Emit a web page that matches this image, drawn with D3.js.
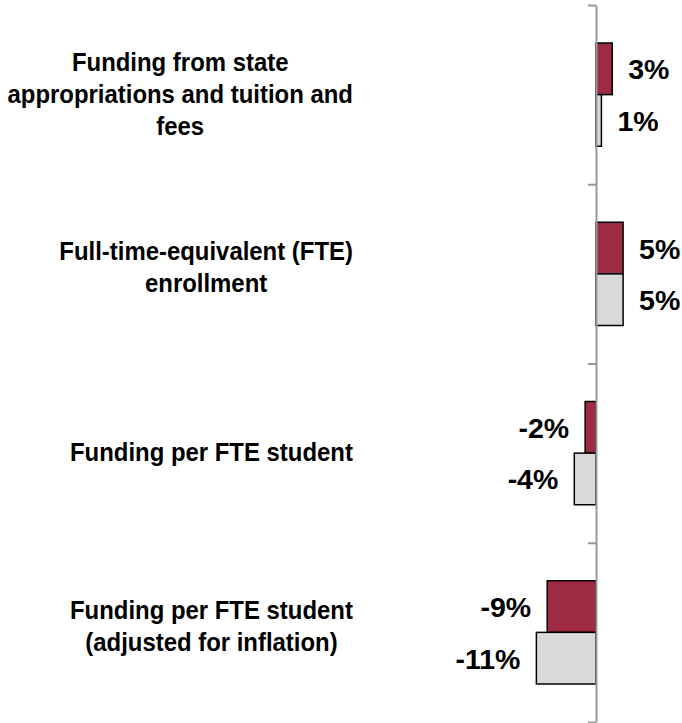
<!DOCTYPE html>
<html>
<head>
<meta charset="utf-8">
<script src="https://cdn.jsdelivr.net/npm/d3@7"></script>
<style>
  body { margin: 0; background: #fff; }
  svg { display: block; font-family: "Liberation Sans", Arial, Helvetica, sans-serif; }
</style>
</head>
<body>
<div class="canvas"></div>
<script>
// category labels, already broken into lines as in the original
const categories = [
  ["Funding from state", "appropriations and tuition and", "fees"],
  ["Full-time-equivalent (FTE)", "enrollment"],
  ["Funding per FTE student"],
  ["Funding per FTE student", "(adjusted for inflation)"]
];
const seriesNames = ["first", "second"];
const firstValues = [3, 5, -2, -9];   // red bars
const secondValues = [1, 5, -4, -11]; // grey bars

const width = 682;
const height = 723;
const axisX = 596;

const svg = d3
  .select(".canvas")
  .append("svg")
  .attr("width", width)
  .attr("height", height);

const x = d3.scaleLinear().domain([-15, 15]).range([axisX - 81.3, axisX + 81.3]);
const y = d3.scaleBand().domain(d3.range(categories.length)).range([5, 722]);
const ySub = d3
  .scaleBand()
  .domain(seriesNames)
  .range([38, y.step() - 38]);

// bars
const colors = { first: "#9e2b42", second: "#d9d9d9" };
const rows = [];
categories.forEach((c, i) => {
  rows.push({ i, s: "first", v: firstValues[i] });
  rows.push({ i, s: "second", v: secondValues[i] });
});

svg
  .selectAll(".bar")
  .data(rows)
  .join("rect")
  .attr("class", "bar")
  .attr("x", (d) => x(Math.min(0, d.v)))
  .attr("width", (d) => Math.abs(x(d.v) - x(0)))
  .attr("y", (d) => y(d.i) + ySub(d.s))
  .attr("height", ySub.bandwidth())
  .attr("fill", (d) => colors[d.s])
  .attr("stroke", "#000")
  .attr("stroke-width", 1.5);

// axis with ticks on the category boundaries
const yTicks = d3.scaleLinear().domain([0, categories.length]).range([5, 722]);
const axis = svg
  .append("g")
  .attr("transform", `translate(${axisX},0)`)
  .call(
    d3
      .axisLeft(yTicks)
      .tickValues(d3.range(categories.length + 1))
      .tickFormat("")
      .tickSizeInner(8)
      .tickSizeOuter(0)
  );
axis.selectAll("path, line").attr("stroke", "#999").attr("stroke-width", 2);

// value labels
svg
  .selectAll(".val")
  .data(rows)
  .join("text")
  .attr("class", "val")
  .attr("x", (d) => (d.v >= 0 ? x(d.v) + 16 : x(d.v) - 16))
  .attr("y", (d) => y(d.i) + ySub(d.s) + ySub.bandwidth() / 2 + 10.5)
  .attr("text-anchor", (d) => (d.v >= 0 ? "start" : "end"))
  .attr("font-size", 28.5)
  .attr("font-weight", "bold")
  .attr("fill", "#000")
  .text((d) => `${d.v}%`);

// category labels: block right-aligned, lines centred inside it
// (the original font is a bit narrower, so squeeze it horizontally)
const lineGap = 32;
const blockRight = 353;
const squeeze = 0.957;
categories.forEach((lines, i) => {
  const g = svg.append("g").attr("font-size", 25).attr("font-weight", "bold");
  const texts = g
    .selectAll("text")
    .data(lines)
    .join("text")
    .attr("text-anchor", "middle")
    .attr("fill", "#000")
    .text((d) => d);
  const maxW = d3.max(texts.nodes(), (n) => n.getComputedTextLength()) * squeeze;
  const mid = y(i) + y.bandwidth() / 2 + (lines.length % 2 === 0 ? 2.5 : 8);
  texts.attr(
    "transform",
    (d, j) =>
      `translate(${blockRight - maxW / 2},${mid + (j - (lines.length - 1) / 2) * lineGap}) scale(${squeeze},1)`
  );
});
</script>
</body>
</html>
